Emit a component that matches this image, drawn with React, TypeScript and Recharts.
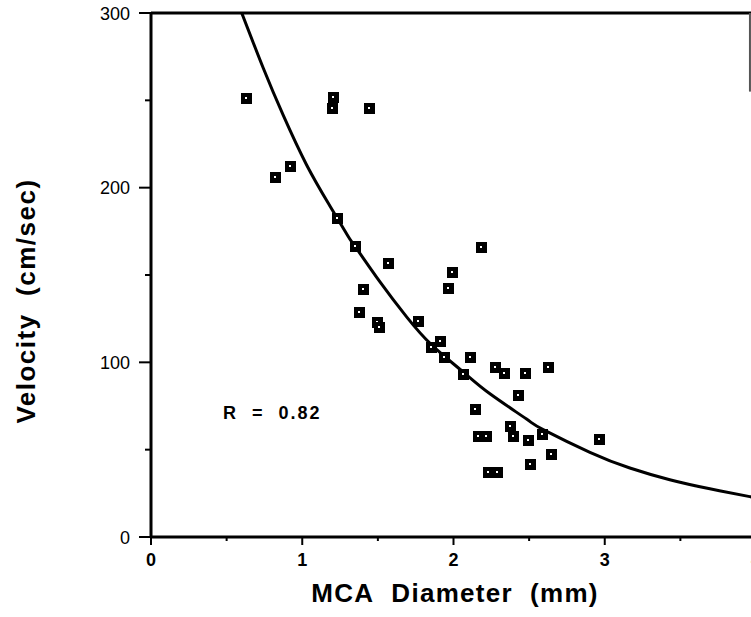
import React from 'react';
import { ComposedChart, XAxis, YAxis, Scatter, Line, ReferenceLine, Label } from 'recharts';

const diameters = [0.63, 0.82, 0.92, 1.205, 1.194, 1.443, 1.227, 1.346, 1.566, 1.987, 2.179, 1.961, 1.403, 1.377, 1.492, 1.507, 1.767, 1.91, 1.85, 1.937, 2.108, 2.064, 2.274, 2.333, 2.472, 2.622, 2.428, 2.141, 2.373, 2.395, 2.49, 2.586, 2.159, 2.214, 2.963, 2.644, 2.505, 2.229, 2.289];
const velocities = [251.5, 206, 212.2, 252, 245.7, 245.8, 182.6, 166.4, 156.8, 151.5, 165.8, 142.5, 142.1, 129.1, 123, 120.5, 123.4, 112.5, 108.7, 103, 103.3, 93.4, 97.6, 93.8, 93.8, 97.2, 81.4, 73.2, 63.8, 57.9, 55.6, 59, 57.9, 57.9, 56, 47.6, 41.8, 37.4, 37.4];

const curveDiameters = [0.6, 0.742, 0.874, 1.029, 1.183, 1.304, 1.348, 1.514, 1.69, 1.855, 2.064, 2.241, 2.483, 2.593, 2.902, 3.166, 3.43, 3.695, 3.959, 4.0];
const curveVelocities = [300, 268.5, 241.5, 213, 189.5, 172, 166.5, 146, 126, 110, 94.5, 82, 67.5, 61.5, 48.5, 39.5, 32.8, 27.6, 23.1, 22.5];

const xTicks = [0, 0.5, 1, 1.5, 2, 2.5, 3, 3.5, 4];
const yTicks = [0, 50, 100, 150, 200, 250, 300];

const xTitle = 'MCA\u00a0 Diameter\u00a0 (mm)';
const yTitle = 'Velocity\u00a0 (cm/sec)';
const rText = 'R\u00a0 =\u00a0 0.82';

const points = diameters.map((d, i) => ({ d, v: velocities[i] }));
const curve = curveDiameters.map((d, i) => ({ d, v: curveVelocities[i] }));

const FONT = '"Liberation Sans", Arial, Helvetica, sans-serif';

const XTick = (props: any) => {
  const { x, y, payload } = props;
  const major = Number.isInteger(payload.value);
  return (
    <g>
      <line x1={x} x2={x} y1={y} y2={y + (major ? 8 : 4)} stroke="#000" strokeWidth={2} />
      {major && (
        <text x={x} y={y + 29} textAnchor="middle" fontSize={18} fontWeight="bold" fontFamily={FONT} fill="#000">
          {payload.value}
        </text>
      )}
    </g>
  );
};

const YTick = (props: any) => {
  const { x, y, payload } = props;
  const major = payload.value % 100 === 0;
  return (
    <g>
      <line x1={x} x2={x - (major ? 12 : 6)} y1={y} y2={y} stroke="#000" strokeWidth={2} />
      {major && (
        <text x={x - 21} y={y + 6.5} textAnchor="end" fontSize={18} fontFamily={FONT} fill="#000">
          {payload.value}
        </text>
      )}
    </g>
  );
};

const Marker = (props: any) => {
  const { cx, cy } = props;
  if (cx == null || cy == null) return null;
  const x = Math.round(cx);
  const y = Math.round(cy);
  return (
    <g>
      <rect x={x - 5} y={y - 5} width={11} height={11} fill="#000" />
      <rect x={x - 1} y={y - 1} width={2} height={2} fill="#fff" />
    </g>
  );
};

const Titles = () => (
  <g fontFamily={FONT} fill="#000" fontWeight="bold">
    <text x={455} y={602} textAnchor="middle" fontSize={26} letterSpacing={1.3}>{xTitle}</text>
    <text x={35} y={301} textAnchor="middle" fontSize={26} letterSpacing={1.5} transform="rotate(-90, 35, 301)">{yTitle}</text>
    <text x={223} y={419} fontSize={18} letterSpacing={2}>{rText}</text>
  </g>
);

export default function App() {
  return (
    <div style={{ position: 'absolute', left: 0, top: 0, width: 751, height: 617, overflow: 'hidden', background: '#fff', fontFamily: FONT }}>
      <ComposedChart width={770} height={617} margin={{ top: 13, right: 14, bottom: 0, left: 0 }}>
        <XAxis
          dataKey="d"
          type="number"
          domain={[0, 4]}
          ticks={xTicks}
          allowDataOverflow
          height={80}
          tickSize={0}
          tickMargin={0}
          tickLine={false}
          tick={<XTick />}
          axisLine={{ stroke: '#000', strokeWidth: 3 }}
          interval={0}
        >
          <Label content={() => <Titles />} />
        </XAxis>
        <YAxis
          dataKey="v"
          type="number"
          domain={[0, 300]}
          ticks={yTicks}
          allowDataOverflow
          width={151}
          tickSize={0}
          tickMargin={0}
          tickLine={false}
          tick={<YTick />}
          axisLine={{ stroke: '#000', strokeWidth: 3 }}
          interval={0}
        />
        <ReferenceLine y={300} stroke="#000" strokeWidth={3} />
        <ReferenceLine segment={[{ x: 3.96, y: 300 }, { x: 3.96, y: 255 }]} stroke="#555" strokeWidth={2} />
        <Line data={curve} dataKey="v" type="natural" stroke="#000" strokeWidth={3} dot={false} isAnimationActive={false} />
        <Scatter data={points} dataKey="v" shape={<Marker />} isAnimationActive={false} />
      </ComposedChart>
    </div>
  );
}
